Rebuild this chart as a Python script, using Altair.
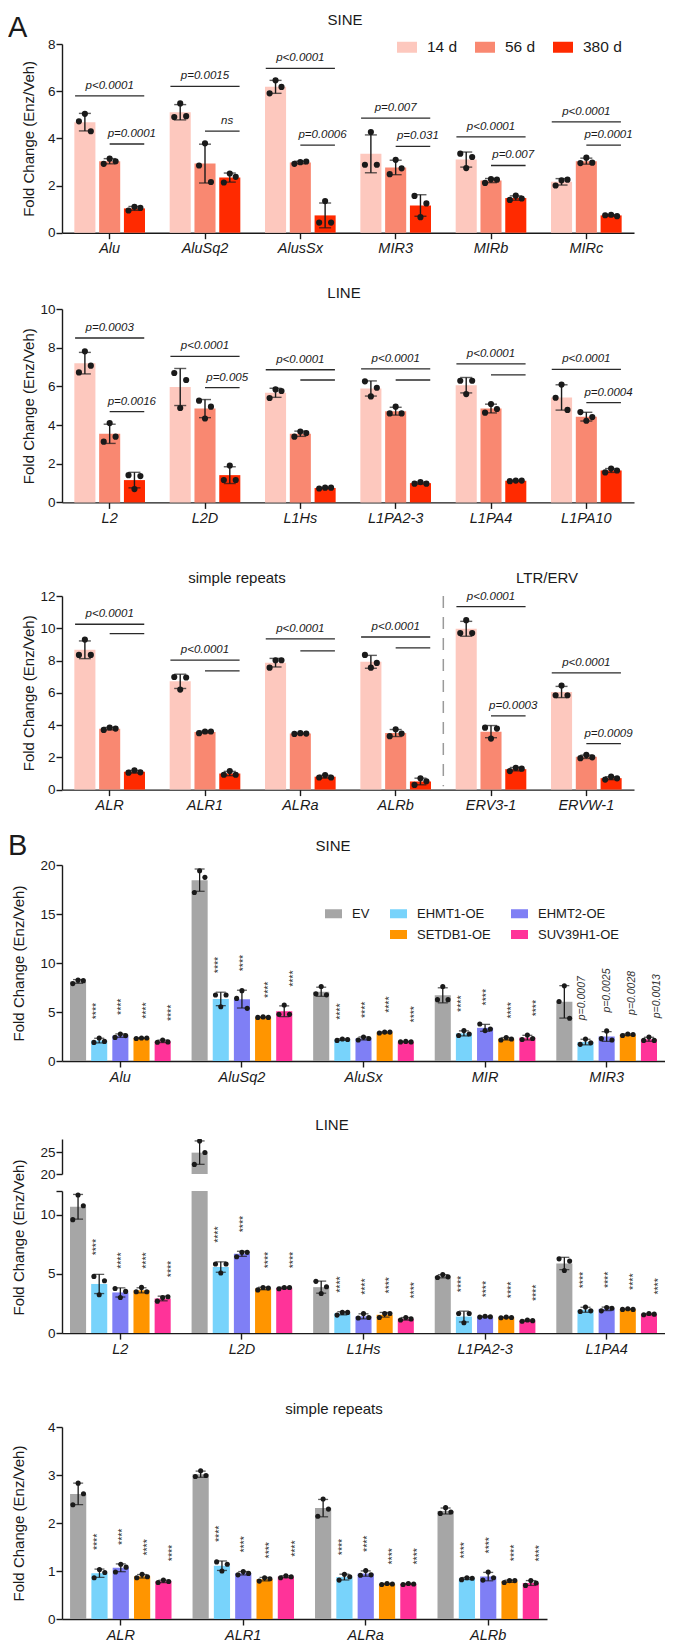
import altair as alt
import pandas as pd

FONT = "Liberation Sans"
INK = "#1a1a1a"
YTITLE = "Fold Change (Enz/Veh)"

# ------------------------------------------------------------------ Panel A
A_GROUPS = ["14 d", "56 d", "380 d"]
A_COLORS = ["#fdc8be", "#f98871", "#ff2a00"]

A_SINE_CATS = ["Alu", "AluSq2", "AlusSx", "MIR3", "MIRb", "MIRc"]
A_SINE_14D = [[4.72, 5.04, 4.30], [4.90, 5.48, 4.94], [5.91, 6.46, 6.18], [2.88, 4.27, 2.88], [3.35, 2.74, 3.21], [2.00, 2.22, 2.25]]
A_SINE_56D = [[2.92, 3.14, 3.03], [2.85, 3.79, 2.15], [2.92, 2.99, 3.02], [2.48, 3.09, 2.73], [2.11, 2.27, 2.25], [2.95, 3.18, 2.97]]
A_SINE_380D = [[0.94, 1.10, 1.05], [2.13, 2.51, 2.37], [0.43, 1.34, 0.43], [1.56, 0.66, 1.24], [1.39, 1.57, 1.45], [0.74, 0.76, 0.70]]
A_SINE_LONG_Y = [5.80, 6.20, 6.97, 4.86, 4.06, 4.70]
A_SINE_LONG_P = ["p<0.0001", "p=0.0015", "p<0.0001", "p=0.007", "p<0.0001", "p<0.0001"]
A_SINE_SHORT_Y = [3.76, 4.31, 3.71, 3.66, 2.85, 3.71]
A_SINE_SHORT_P = ["p=0.0001", "ns", "p=0.0006", "p=0.031", "p=0.007", "p=0.0001"]

A_LINE_CATS = ["L2", "L2D", "L1Hs", "L1PA2-3", "L1PA4", "L1PA10"]
A_LINE_14D = [[6.72, 7.81, 7.07], [6.69, 4.88, 6.33], [5.40, 5.84, 5.76], [6.26, 5.48, 5.93], [6.29, 5.60, 6.29], [5.41, 6.09, 4.78]]
A_LINE_56D = [[3.14, 4.10, 3.40], [5.26, 4.34, 4.95], [3.40, 3.66, 3.59], [4.60, 4.95, 4.60], [4.64, 5.09, 4.83], [4.67, 4.22, 4.41]]
A_LINE_380D = [[1.41, 0.69, 1.36], [1.16, 1.91, 1.16], [0.72, 0.76, 0.76], [0.97, 1.05, 0.97], [1.10, 1.13, 1.13], [1.55, 1.75, 1.65]]
A_LINE_LONG_Y = [8.50, 7.55, 6.86, 6.90, 7.16, 6.88]
A_LINE_LONG_P = ["p=0.0003", "p<0.0001", "p<0.0001", "p<0.0001", "p<0.0001", "p<0.0001"]
A_LINE_SHORT_Y = [4.69, 5.93, 6.33, 6.33, 6.59, 5.16]
A_LINE_SHORT_P = ["p=0.0016", "p=0.005", "", "", "", "p=0.0004"]

A_SR_CATS = ["ALR", "ALR1", "ALRa", "ALRb", "ERV3-1", "ERVW-1"]
A_SR_14D = [[8.35, 9.30, 8.35], [6.98, 6.20, 6.95], [7.56, 8.02, 8.02], [8.35, 7.56, 7.85], [9.70, 10.50, 9.70], [5.85, 6.45, 5.85]]
A_SR_56D = [[3.70, 3.85, 3.78], [3.50, 3.60, 3.60], [3.45, 3.50, 3.47], [3.31, 3.74, 3.47], [3.84, 3.16, 3.78], [1.95, 2.15, 2.00]]
A_SR_380D = [[1.05, 1.20, 1.07], [0.92, 1.15, 0.92], [0.75, 0.90, 0.75], [0.29, 0.70, 0.52], [1.15, 1.35, 1.30], [0.62, 0.80, 0.70]]
A_SR_LONG_Y = [10.25, 8.02, 9.34, 9.46, 11.34, 7.23]
A_SR_LONG_P = ["p<0.0001", "p<0.0001", "p<0.0001", "p<0.0001", "p<0.0001", "p<0.0001"]
A_SR_SHORT_Y = [9.67, 7.36, 8.60, 8.78, 4.57, 2.85]
A_SR_SHORT_P = ["", "", "", "", "p=0.0003", "p=0.0009"]

# ------------------------------------------------------------------ Panel B
B_GROUPS = ["EV", "EHMT1-OE", "EHMT2-OE", "SETDB1-OE", "SUV39H1-OE"]
B_COLORS = ["#a6a6a6", "#78d3fb", "#7f7ff5", "#ff9500", "#ff3399"]
B_LEGEND_DOMAIN = ["EV", "EHMT1-OE", "EHMT2-OE", " ", "SETDB1-OE", "SUV39H1-OE"]
B_LEGEND_RANGE = ["#a6a6a6", "#78d3fb", "#7f7ff5", "rgba(0,0,0,0)", "#ff9500", "#ff3399"]

B_SINE_CATS = ["Alu", "AluSq2", "AluSx", "MIR", "MIR3"]
B_SINE_EV = [[7.90, 8.25, 8.20], [17.20, 19.42, 18.74], [6.85, 7.60, 6.75], [6.26, 7.59, 6.26], [6.07, 7.67, 4.36]]
B_SINE_EHMT1 = [[1.90, 2.35, 2.00], [6.73, 5.54, 6.73], [2.10, 2.25, 2.20], [2.60, 3.10, 2.75], [1.70, 2.25, 1.85]]
B_SINE_EHMT2 = [[2.41, 2.76, 2.59], [6.39, 7.18, 5.37], [2.15, 2.45, 2.30], [3.78, 3.10, 3.27], [2.28, 3.07, 2.15]]
B_SINE_SETDB1 = [[2.30, 2.35, 2.35], [4.45, 4.50, 4.45], [2.85, 2.95, 2.95], [2.15, 2.40, 2.25], [2.60, 2.75, 2.70]]
B_SINE_SUV = [[1.92, 2.15, 1.95], [4.76, 5.71, 4.76], [1.95, 2.00, 1.95], [2.20, 2.65, 2.30], [2.10, 2.45, 2.10]]
B_SINE_SIG = [["****"] * 4, ["****"] * 4, ["****"] * 4, ["****"] * 4,
              ["p=0.0007", "p=0.0025", "p=0.0028", "p=0.0013"]]

B_LINE_CATS = ["L2", "L2D", "L1Hs", "L1PA2-3", "L1PA4"]
B_LINE_EV = [[9.58, 11.66, 10.76], [22.20, 27.55, 24.90], [4.37, 3.35, 3.92], [4.70, 4.95, 4.75], [6.27, 5.29, 6.08]]
B_LINE_EHMT1 = [[4.79, 3.24, 4.42], [5.83, 5.07, 5.83], [1.52, 1.75, 1.75], [1.66, 0.87, 1.66], [1.82, 2.21, 1.88]]
B_LINE_EHMT2 = [[3.77, 3.01, 3.52], [6.45, 6.82, 6.82], [1.27, 1.66, 1.32], [1.35, 1.42, 1.38], [1.88, 2.16, 2.10]]
B_LINE_SETDB1 = [[3.49, 3.86, 3.49], [3.65, 3.85, 3.80], [1.32, 1.66, 1.66], [1.30, 1.35, 1.32], [2.00, 2.05, 2.00]]
B_LINE_SUV = [[2.70, 3.00, 3.07], [3.75, 3.85, 3.85], [1.10, 1.32, 1.20], [1.00, 1.10, 1.05], [1.55, 1.65, 1.60]]
B_LINE_SIG = [["****"] * 4] * 5

B_SR_CATS = ["ALR", "ALR1", "ALRa", "ALRb"]
B_SR_EV = [[2.38, 2.83, 2.61], [2.97, 3.09, 2.99], [2.14, 2.50, 2.29], [2.20, 2.32, 2.23]]
B_SR_EHMT1 = [[0.86, 1.03, 0.97], [1.19, 1.00, 1.14], [0.81, 0.93, 0.88], [0.82, 0.86, 0.85]]
B_SR_EHMT2 = [[0.98, 1.14, 1.08], [0.92, 0.99, 0.95], [0.91, 1.01, 0.92], [0.81, 0.98, 0.86]]
B_SR_SETDB1 = [[0.86, 0.93, 0.88], [0.79, 0.86, 0.84], [0.72, 0.74, 0.73], [0.76, 0.80, 0.80]]
B_SR_SUV = [[0.76, 0.81, 0.78], [0.86, 0.90, 0.88], [0.72, 0.74, 0.73], [0.70, 0.80, 0.75]]
B_SR_SIG = [["****"] * 4] * 4

GEO_A = dict(pi=0.22, po=0.11, opi=0.15, jit=0.24, capw=12, dot=38, lw=1.4, half=12.4)
GEO_B = dict(pi=0.13, po=0.045, opi=0.24, jit=0.25, capw=10, dot=26, lw=1.3, half=10.5)


def long_points(cats, groups, series, sig=None):
    rows = []
    for gi, (g, per_cat) in enumerate(zip(groups, series)):
        for ci, c in enumerate(cats):
            s = ""
            if sig is not None and gi > 0:
                s = sig[ci][gi - 1]
            for r, v in enumerate(per_cat[ci]):
                rows.append({"cat": c, "grp": g, "gi": gi, "rep": r, "value": v, "sig": s})
    return pd.DataFrame(rows)


def label_layer(text, x, y, size=15, align="center", baseline="middle"):
    return alt.Chart(pd.DataFrame({"t": [text]})).mark_text(
        fontSize=size, font=FONT, color=INK, align=align, baseline=baseline
    ).encode(text="t:N", x=alt.value(x), y=alt.value(y))


def a_sig(cats, long_y, long_p, short_y, short_p, separator_before=None):
    def build(ctx):
        X, XO, Y, geo = ctx["X"], ctx["XO"], ctx["Y"], ctx["geo"]
        rows = []
        for i, c in enumerate(cats):
            rows += [
                {"cat": c, "grp": A_GROUPS[0], "y": long_y[i], "cid": f"L{i}"},
                {"cat": c, "grp": A_GROUPS[2], "y": long_y[i], "cid": f"L{i}"},
                {"cat": c, "grp": A_GROUPS[1], "y": short_y[i], "cid": f"S{i}"},
                {"cat": c, "grp": A_GROUPS[2], "y": short_y[i], "cid": f"S{i}"},
            ]
        lines = alt.Chart(pd.DataFrame(rows)).mark_line(color="#2a2a2a", strokeWidth=1.3).encode(
            x=X, xOffset=XO, y=Y("y:Q"), detail="cid:N")
        ldf = pd.DataFrame({"cat": cats, "grp": A_GROUPS[1], "y": long_y, "p": long_p})
        sdf = pd.DataFrame({"cat": cats, "grp": A_GROUPS[2], "y": short_y, "p": short_p})
        tk = dict(fontSize=11.5, fontStyle="italic", font=FONT, color=INK, baseline="bottom", dy=-5)
        lt = alt.Chart(ldf).mark_text(**tk).encode(x=X, xOffset=XO, y=Y("y:Q"), text="p:N")
        st = alt.Chart(sdf).mark_text(dx=-geo["half"], **tk).encode(x=X, xOffset=XO, y=Y("y:Q"), text="p:N")
        out = [lines, lt, st]
        if separator_before is not None:
            top = ctx["ydom"][1]
            sep = alt.Chart(pd.DataFrame({"cat": [separator_before], "top": [top], "bot": [0.2]})).mark_rule(
                strokeDash=[12, 9], color="#9a9a9a", strokeWidth=1.5, xOffset=-10.5
            ).encode(x=alt.X("cat:N", scale=ctx["xs"], axis=ctx["xaxis"], bandPosition=0),
                     y=Y("top:Q"), y2="bot:Q")
            out.append(sep)
        return out
    return build


def panel(df, cats, groups, cdom, crange, ydom, yvals, width, height, geo,
          legend=None, clip=False, show_x=True, title_x=-26, title_y=None,
          ytitle=YTITLE, label_expr=None, sig_text=False, extra=None, labels=()):
    xs = alt.Scale(domain=cats, paddingInner=geo["pi"], paddingOuter=geo["po"])
    if show_x:
        xaxis = alt.Axis(title=None, labelFontStyle="italic", labelFontSize=14.5, labelPadding=3,
                         tickSize=6, labelAngle=0)
    else:
        xaxis = None
    X = alt.X("cat:N", scale=xs, axis=xaxis)
    XO = alt.XOffset("grp:N", scale=alt.Scale(domain=groups, paddingInner=geo["opi"],
                                              paddingOuter=geo["opi"] / 2))
    ys = alt.Scale(domain=ydom, nice=False, zero=False)
    ax_kw = dict(values=yvals, titleX=title_x, labelPadding=1, tickSize=6, title=ytitle)
    if title_y is not None:
        ax_kw["titleY"] = title_y
    if label_expr is not None:
        ax_kw["labelExpr"] = label_expr
    yaxis = alt.Axis(**ax_kw)

    def Y(field):
        return alt.Y(field, scale=ys, axis=yaxis)

    base = alt.Chart(df)
    bars = base.mark_bar(clip=clip).encode(
        x=X, xOffset=XO, y=Y("mean(value):Q"),
        color=alt.Color("grp:N", scale=alt.Scale(domain=cdom, range=crange), legend=legend))
    agg = base.transform_aggregate(
        m="mean(value)", s="stdev(value)", groupby=["cat", "grp", "sig"]
    ).transform_calculate(lo="datum.m - datum.s", hi="datum.m + datum.s")
    err = agg.mark_rule(clip=clip, color=INK, strokeWidth=geo["lw"]).encode(
        x=X, xOffset=XO, y=Y("lo:Q"), y2="hi:Q")
    cap1 = agg.mark_tick(clip=clip, color=INK, thickness=geo["lw"], size=geo["capw"]).encode(
        x=X, xOffset=XO, y=Y("hi:Q"))
    cap2 = agg.mark_tick(clip=clip, color=INK, thickness=geo["lw"], size=geo["capw"]).encode(
        x=X, xOffset=XO, y=Y("lo:Q"))
    dots = base.transform_calculate(
        pos=f"datum.gi + (datum.rep - 1) * {geo['jit']}"
    ).mark_circle(clip=clip, size=geo["dot"], color=INK, opacity=1).encode(
        x=X,
        xOffset=alt.XOffset("pos:Q", scale=alt.Scale(domain=[-0.5, len(groups) - 0.5], zero=False, nice=False)),
        y=Y("value:Q"))
    layers = [bars, err, cap1, cap2, dots]
    if sig_text:
        star = agg.transform_filter("datum.sig == '****'").mark_text(
            angle=270, align="left", baseline="middle", dx=19, dy=2, fontSize=10.5, font=FONT, color="#333"
        ).encode(x=X, xOffset=XO, y=Y("hi:Q"), text="sig:N")
        pv = agg.transform_filter("datum.sig != '' && datum.sig != '****'").mark_text(
            angle=270, align="left", baseline="middle", dx=19, fontSize=10.5, fontStyle="italic",
            font=FONT, color="#333"
        ).encode(x=X, xOffset=XO, y=Y("hi:Q"), text="sig:N")
        layers += [star, pv]
    if extra is not None:
        layers += extra({"X": X, "XO": XO, "Y": Y, "geo": geo, "xs": xs, "xaxis": xaxis, "ydom": ydom})
    layers += list(labels)
    return alt.layer(*layers).resolve_scale(xOffset="independent").properties(width=width, height=height)


def spacer(h):
    return alt.Chart(pd.DataFrame({"s": [0]})).mark_point(opacity=0).properties(width=10, height=h)


# ---------------- build panels
A_W = 572
B_W = 603

a_sine_df = long_points(A_SINE_CATS, A_GROUPS, [A_SINE_14D, A_SINE_56D, A_SINE_380D])
a_line_df = long_points(A_LINE_CATS, A_GROUPS, [A_LINE_14D, A_LINE_56D, A_LINE_380D])
a_sr_df = long_points(A_SR_CATS, A_GROUPS, [A_SR_14D, A_SR_56D, A_SR_380D])

legend_a = alt.Legend(title=None, orient="none", legendX=335, legendY=-7, direction="horizontal",
                      symbolType="M-1,-0.55H1V0.55H-1Z", symbolSize=400, labelFontSize=15.5,
                      labelOffset=10, columnPadding=17, symbolStrokeWidth=0, labelFont=FONT,
                      labelColor=INK)

a_sine = panel(a_sine_df, A_SINE_CATS, A_GROUPS, A_GROUPS, A_COLORS, [0, 8], [0, 2, 4, 6, 8],
               A_W, 188.7, GEO_A, legend=legend_a, title_x=-26,
               extra=a_sig(A_SINE_CATS, A_SINE_LONG_Y, A_SINE_LONG_P, A_SINE_SHORT_Y, A_SINE_SHORT_P),
               labels=[label_layer("SINE", 283, -24), label_layer("A", -54, -7, size=29, align="left",
                                                                  baseline="alphabetic")])

a_line = panel(a_line_df, A_LINE_CATS, A_GROUPS, A_GROUPS, A_COLORS, [0, 10], [0, 2, 4, 6, 8, 10],
               A_W, 193.4, GEO_A, title_x=-26,
               extra=a_sig(A_LINE_CATS, A_LINE_LONG_Y, A_LINE_LONG_P, A_LINE_SHORT_Y, A_LINE_SHORT_P),
               labels=[label_layer("LINE", 282, -16)])

a_sr = panel(a_sr_df, A_SR_CATS, A_GROUPS, A_GROUPS, A_COLORS, [0, 12], [0, 2, 4, 6, 8, 10, 12],
             A_W, 193.6, GEO_A, title_x=-26,
             extra=a_sig(A_SR_CATS, A_SR_LONG_Y, A_SR_LONG_P, A_SR_SHORT_Y, A_SR_SHORT_P,
                         separator_before="ERV3-1"),
             labels=[label_layer("simple repeats", 175, -18.5), label_layer("LTR/ERV", 485, -18.5)])

b_sine_df = long_points(B_SINE_CATS, B_GROUPS, [B_SINE_EV, B_SINE_EHMT1, B_SINE_EHMT2, B_SINE_SETDB1, B_SINE_SUV], B_SINE_SIG)
b_line_df = long_points(B_LINE_CATS, B_GROUPS, [B_LINE_EV, B_LINE_EHMT1, B_LINE_EHMT2, B_LINE_SETDB1, B_LINE_SUV], B_LINE_SIG)
b_sr_df = long_points(B_SR_CATS, B_GROUPS, [B_SR_EV, B_SR_EHMT1, B_SR_EHMT2, B_SR_SETDB1, B_SR_SUV], B_SR_SIG)

legend_b = alt.Legend(title=None, orient="none", legendX=263, legendY=40, columns=3, direction="horizontal",
                      symbolType="M-1,-0.53H1V0.53H-1Z", symbolSize=289, labelFontSize=13,
                      labelOffset=10, columnPadding=20, rowPadding=5, symbolStrokeWidth=0,
                      labelFont=FONT, labelColor=INK)

b_sine = panel(b_sine_df, B_SINE_CATS, B_GROUPS, B_LEGEND_DOMAIN, B_LEGEND_RANGE, [0, 20], [0, 5, 10, 15, 20],
               B_W, 196, GEO_B, legend=legend_b, title_x=-36, sig_text=True,
               labels=[label_layer("SINE", 271, -19),
                       label_layer("B", -54, -10, size=29, align="left", baseline="alphabetic")])

b_line_top = panel(b_line_df, B_LINE_CATS, B_GROUPS, B_LEGEND_DOMAIN, B_LEGEND_RANGE, [20, 28], [20, 25],
                   B_W, 35, GEO_B, clip=True, show_x=False, ytitle=None, title_x=-36,
                   labels=[label_layer("LINE", 270, -14.5)])
b_line_bot = panel(b_line_df, B_LINE_CATS, B_GROUPS, B_LEGEND_DOMAIN, B_LEGEND_RANGE, [0, 12], [0, 5, 10, 12],
                   B_W, 142.1, GEO_B, clip=True, title_x=-36, title_y=46,
                   label_expr="datum.value == 12 ? '' : datum.label", sig_text=True)

b_sr = panel(b_sr_df, B_SR_CATS, B_GROUPS, B_LEGEND_DOMAIN, B_LEGEND_RANGE, [0, 4], [0, 1, 2, 3, 4],
             485, 192, GEO_B, title_x=-36, sig_text=True,
             labels=[label_layer("simple repeats", 272, -18)])

chart = alt.vconcat(
    a_sine, spacer(75.5), a_line, spacer(92.5), a_sr, spacer(75.0), b_sine, spacer(78.0),
    b_line_top, spacer(16.9), b_line_bot, spacer(93.0), b_sr,
    spacing=0, bounds="flush",
).resolve_scale(
    x="independent", y="independent", color="independent", xOffset="independent"
).resolve_legend(color="independent").properties(
    padding={"left": 0, "top": 5, "right": 0, "bottom": 0}
).configure(font=FONT).configure_view(stroke=None).configure_axis(
    labelFont=FONT, titleFont=FONT, labelFontSize=13.5, titleFontSize=15, titleFontWeight="normal",
    labelColor=INK, titleColor=INK, domainColor=INK, tickColor=INK, domainWidth=1.4, tickWidth=1.4,
    grid=False
)

chart.save("out.html", embed_options={"renderer": "svg", "actions": False})
